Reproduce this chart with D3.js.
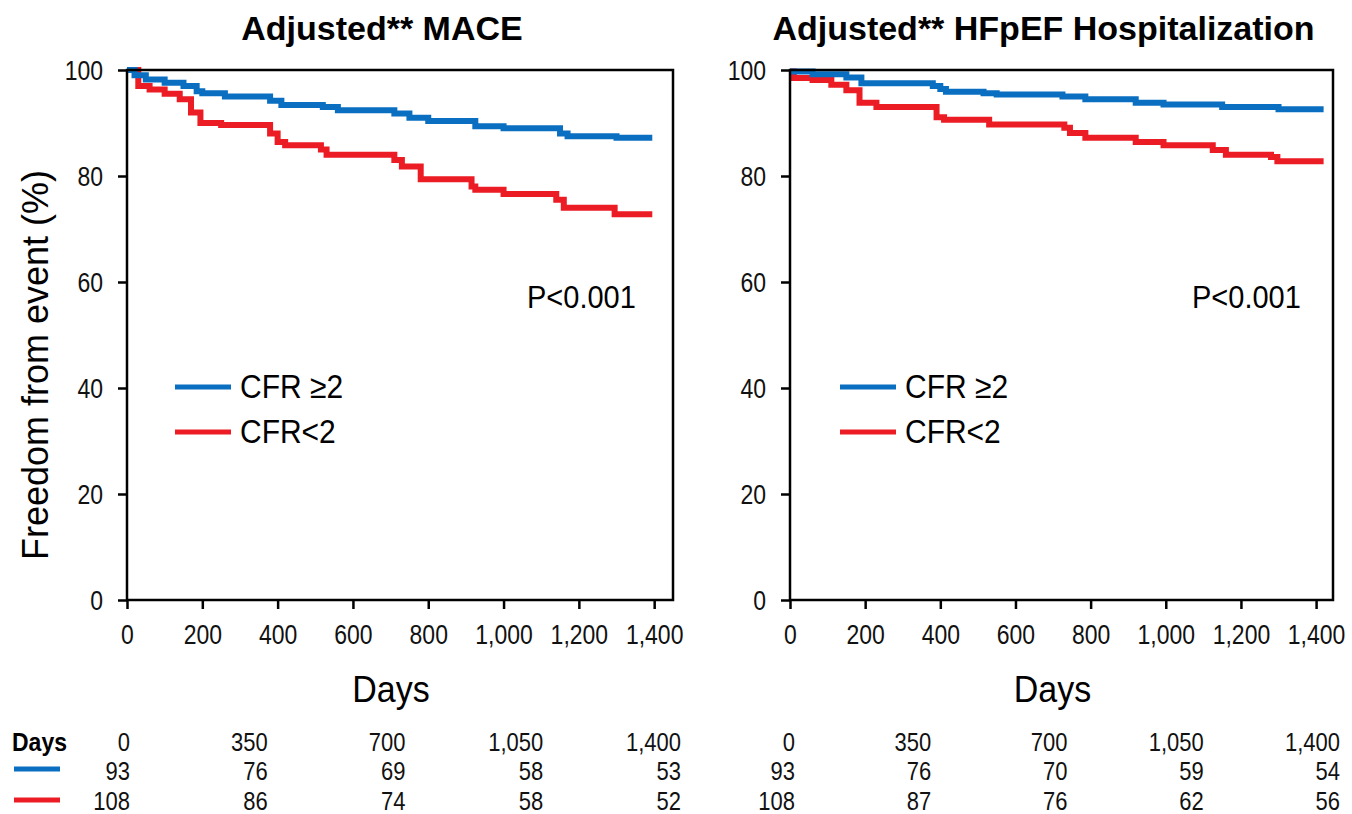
<!DOCTYPE html>
<html>
<head>
<meta charset="utf-8">
<script src="https://cdn.jsdelivr.net/npm/d3@7"></script>
<style>
  body { margin: 0; background: #fff; }
  svg { display: block; font-family: "Liberation Sans", Arial, sans-serif; }
</style>
</head>
<body>
<svg id="chart" width="1352" height="814"></svg>
<script>
// step points [day, % free from event]
const maceHigh = [[0,100],[20,99],[50,98.2],[100,97.6],[150,97],[185,96],[200,95.6],[260,95],[380,94.2],[410,93.4],[520,93],[560,92.4],[710,91.8],[750,91],[800,90.4],[925,89.4],[1000,89],[1150,88],[1170,87.5],[1300,87.2],[1395,87.2]];
const maceLow = [[0,100],[30,97],[60,96.3],[100,95.5],[140,94.5],[170,92],[195,90],[250,89.6],[380,88],[400,86.4],[420,85.8],[515,85],[530,84],[690,84],[710,83],[730,81.8],[780,79.4],[915,78],[925,77.4],[1000,76.6],[1140,75.5],[1160,74],[1295,72.8],[1395,72.8]];
const hfHigh = [[0,99.7],[60,99.2],[150,98.6],[190,97.5],[380,97],[400,96.4],[415,95.9],[515,95.6],[550,95.4],[725,95],[786,94.5],[920,93.8],[994,93.5],[1150,93],[1300,92.6],[1420,92.6]];
const hfLow = [[0,99.7],[10,98.5],[60,98.1],[110,97.2],[150,96.2],[185,93.8],[230,93],[390,91.1],[410,90.6],[530,89.7],[730,89.1],[745,88.1],[786,87.2],[920,86.4],[994,85.8],[1125,84.9],[1160,84],[1280,83.6],[1297,82.8],[1420,82.8]];

// numbers at risk
const riskDays = [0, 350, 700, 1050, 1400];
const maceRiskHigh = [93, 76, 69, 58, 53];
const maceRiskLow = [108, 86, 74, 58, 52];
const hfRiskHigh = [93, 76, 70, 59, 54];
const hfRiskLow = [108, 87, 76, 62, 56];

const xTicks = [0, 200, 400, 600, 800, 1000, 1200, 1400];
const yTicks = [0, 20, 40, 60, 80, 100];
const labels = ["CFR \u22652", "CFR<2"];

const BLUE = "#0b6fc1", RED = "#ec1c24";
const svg = d3.select("#chart");
const fmt = d3.format(",");

const panels = [
  { title: "Adjusted** MACE", left: 127, right: 673, xMax: 1450, high: maceHigh, low: maceLow,
    riskHigh: maceRiskHigh, riskLow: maceRiskLow, riskX: [130, 681], pX: 527, legX: 175 },
  { title: "Adjusted** HFpEF Hospitalization", left: 790, right: 1333, xMax: 1445, high: hfHigh, low: hfLow,
    riskHigh: hfRiskHigh, riskLow: hfRiskLow, riskX: [795, 1340], pX: 1192, legX: 840 }
];

const plotTop = 70, plotBottom = 600;
const y = d3.scaleLinear().domain([0, 100]).range([plotBottom, plotTop]);

panels.forEach(p => {
  const x = d3.scaleLinear().domain([0, p.xMax]).range([p.left, p.right]);
  const mid = (p.left + p.right) / 2;

  // title
  svg.append("text")
    .attr("x", mid - 18).attr("y", 40)
    .attr("text-anchor", "middle")
    .attr("font-size", 34).attr("font-weight", "bold")
    .text(p.title);

  // curves
  const line = d3.line().curve(d3.curveStepAfter)
    .x(d => x(d[0])).y(d => y(d[1]));
  [[p.low, RED], [p.high, BLUE]].forEach(([data, c]) => {
    svg.append("path").datum(data)
      .attr("d", line)
      .attr("fill", "none").attr("stroke", c).attr("stroke-width", 6);
  });

  // frame
  svg.append("rect")
    .attr("x", p.left).attr("y", plotTop)
    .attr("width", p.right - p.left).attr("height", plotBottom - plotTop)
    .attr("fill", "none").attr("stroke", "#000").attr("stroke-width", 2.5);

  const yAxis = svg.append("g")
    .attr("transform", `translate(${p.left},0)`)
    .call(d3.axisLeft(y).tickValues(yTicks).tickSize(9).tickPadding(15));
  const xAxis = svg.append("g")
    .attr("transform", `translate(0,${plotBottom})`)
    .call(d3.axisBottom(x).tickValues(xTicks).tickSize(9).tickFormat(fmt));

  [yAxis, xAxis].forEach(a => {
    a.select(".domain").remove();
    a.selectAll(".tick line").attr("stroke-width", 2.5);
    a.selectAll(".tick text").attr("font-size", 23).attr("fill", "#111")
      .attr("font-family", "'Liberation Sans', Arial, sans-serif");
  });
  yAxis.selectAll(".tick text").attr("dy", "0.36em").attr("transform", "scale(1,1.2)")
    .attr("y", 0);
  xAxis.selectAll(".tick text").attr("dy", null).attr("y", 0)
    .attr("transform", "translate(0,44) scale(1,1.2)");

  // x label
  svg.append("g").attr("transform", `translate(${mid - 9},702) scale(1,1.1)`)
    .append("text")
    .attr("text-anchor", "middle").attr("font-size", 34)
    .text("Days");

  // p-value
  svg.append("g").attr("transform", `translate(${p.pX},308) scale(1,1.1)`)
    .append("text").attr("font-size", 29)
    .text("P<0.001");

  // legend
  [BLUE, RED].forEach((c, i) => {
    const ly = 387 + i * 45;
    svg.append("line")
      .attr("x1", p.legX).attr("x2", p.legX + 56)
      .attr("y1", ly).attr("y2", ly)
      .attr("stroke", c).attr("stroke-width", 5);
    svg.append("g").attr("transform", `translate(${p.legX + 65},${ly + 11}) scale(1,1.1)`)
      .append("text").attr("font-size", 30)
      .text(labels[i]);
  });

  // numbers at risk
  const rx = d3.scaleLinear().domain([0, 1400]).range(p.riskX);
  const rows = [riskDays.map(fmt), p.riskHigh, p.riskLow];
  rows.forEach((vals, r) => {
    const ry = 741 + r * 29.5;
    vals.forEach((v, i) => {
      svg.append("g")
        .attr("transform", `translate(${rx(riskDays[i])},${ry}) scale(1,1.2)`)
        .append("text")
        .attr("text-anchor", "end").attr("dy", "0.36em")
        .attr("font-size", 22).attr("fill", "#111")
        .text(v);
    });
  });
});

// y label
svg.append("text")
  .attr("transform", "translate(48,365) rotate(-90)")
  .attr("text-anchor", "middle").attr("font-size", 36)
  .text("Freedom from event (%)");

// risk table legend
svg.append("g").attr("transform", "translate(12,741) scale(1,1.15)")
  .append("text").attr("dy", "0.36em")
  .attr("font-size", 23).attr("font-weight", "bold")
  .text("Days");
[BLUE, RED].forEach((c, i) => {
  svg.append("line")
    .attr("x1", 14).attr("x2", 60)
    .attr("y1", 769 + i * 31).attr("y2", 769 + i * 31)
    .attr("stroke", c).attr("stroke-width", 5);
});
</script>
</body>
</html>
